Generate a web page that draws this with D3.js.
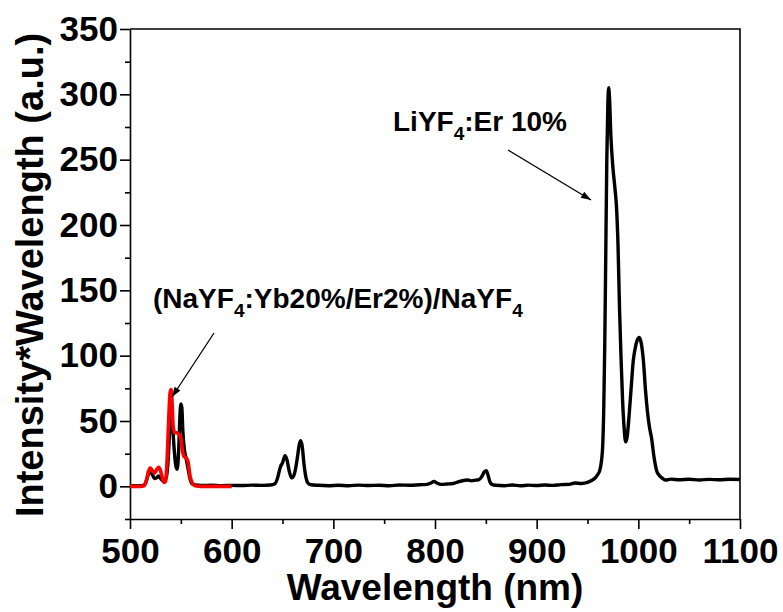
<!DOCTYPE html>
<html>
<head>
<meta charset="utf-8">
<script src="https://cdn.jsdelivr.net/npm/d3@7"></script>
<style>
  body { margin: 0; background: #fff; }
  svg text { font-family: "Liberation Sans", Arial, sans-serif; font-weight: bold; }
</style>
</head>
<body>
<svg id="chart" width="783" height="612"></svg>
<script>
// LiYF4:Er 10% spectrum (black)
const liyfWavelength = [500, 505, 510, 514, 516, 518, 520, 522, 524, 526, 528, 530, 532, 534, 536, 537.5, 539, 540.5, 542, 543.5, 545, 546.5, 548, 549, 550, 551, 552, 553.5, 555, 557, 559, 561, 564, 570, 580, 590, 600, 610, 620, 630, 638, 642.5, 645, 648, 650, 652.5, 654.5, 656.5, 659, 661, 663, 665, 666.5, 668, 669.5, 671, 673, 675, 678, 685, 695, 705, 715, 725, 735, 745, 755, 765, 775, 785, 792, 796, 799, 802, 806, 812, 818, 823, 828, 832, 836, 840, 843, 846, 848.5, 850.5, 852, 854, 856, 860, 868, 876, 884, 892, 900, 908, 916, 924, 932, 938, 944, 950, 954, 957, 960, 962, 963.5, 965, 966, 967, 968, 969, 970, 970.8, 971.6, 973, 975, 977, 978.5, 980, 981.5, 983, 984.5, 986, 987.5, 989, 991, 993, 995, 997, 999, 1001, 1003, 1005, 1007, 1009, 1011, 1013, 1015.5, 1018, 1021, 1024, 1027, 1032, 1040, 1050, 1060, 1070, 1080, 1090, 1100];
const liyfIntensity = [0.3, 0.5, 0.4, 1, 4, 9, 11, 9, 6, 6.5, 8, 6, 4.5, 4, 8, 20, 42, 55, 45, 28, 16, 13, 30, 52, 63, 60, 42, 28, 22, 14, 6, 2, 1, 0.6, 0.8, 0.5, 0.7, 0.6, 0.9, 0.7, 1, 2, 6, 15, 18, 23.5, 20, 12, 6.5, 8, 14, 24, 32, 35, 30, 18, 7, 2.5, 1.2, 0.8, 0.5, 0.8, 0.5, 0.9, 0.6, 0.8, 0.5, 1, 0.8, 1.2, 1.5, 2.5, 3.8, 2.5, 1.5, 1.8, 2.2, 3.5, 4.5, 4.8, 4.2, 4.8, 5, 7.5, 11, 12, 9, 3.5, 1.5, 0.8, 0.5, 1, 0.4, 0.9, 0.6, 1, 0.7, 1.3, 1.5, 2.5, 2.2, 3, 4.5, 6, 9, 12, 18, 32, 60, 110, 180, 250, 292, 305, 298, 268, 244, 228, 214, 185, 136, 98, 66, 45, 34, 38, 55, 76, 96, 106, 112, 114, 109, 96, 74, 57, 45, 37, 22, 12, 8, 6, 4.8, 5.5, 5, 5.4, 4.9, 5.3, 5, 5.4, 5.2];

// (NaYF4:Yb20%/Er2%)/NaYF4 spectrum (red)
const nayfWavelength = [500, 510, 514, 516, 518, 520, 522, 524, 526, 528, 530, 532, 533.5, 535, 536.5, 538, 539.5, 540.5, 541.5, 542.5, 544, 546, 548, 550, 551.5, 553, 555, 557, 559, 561, 564, 570, 580, 590, 600];
const nayfIntensity = [0, 0, 0.5, 4, 11, 14, 12, 10, 12.5, 14.5, 12, 6, 3, 4, 20, 50, 72, 74, 62, 45, 41, 41, 40, 37, 28, 23, 22, 19, 8, 3, 0.5, 0, 0, 0, 0];

const xTicks = [500, 600, 700, 800, 900, 1000, 1100];
const xMinorTicks = [550, 650, 750, 850, 950, 1050];
const yTicks = [0, 50, 100, 150, 200, 250, 300, 350];
const yMinorTicks = [-25, 25, 75, 125, 175, 225, 275, 325];

const plotLeft = 130, plotRight = 740, plotTop = 29, plotBottom = 519;

const svg = d3.select('#chart');

const x = d3.scaleLinear().domain([500, 1100]).range([plotLeft, plotRight]);
const y = d3.scaleLinear().domain([-25, 350]).range([plotBottom, plotTop]);

// frame (top and right)
svg.append('path')
    .attr('d', `M${plotLeft},${plotTop}H${plotRight}V${plotBottom}`)
    .attr('fill', 'none')
    .attr('stroke', '#000')
    .attr('stroke-width', 1.6);

const styleAxis = g => {
    g.select('.domain').attr('stroke-width', 1.6);
    g.selectAll('.tick line').attr('stroke-width', 1.6);
    g.selectAll('text').attr('font-size', 35).attr('fill', '#000');
};

// minor ticks
svg.append('g')
    .attr('transform', `translate(0,${plotBottom})`)
    .call(d3.axisBottom(x).tickValues(xMinorTicks).tickSize(5).tickFormat(''))
    .call(g => g.select('.domain').remove())
    .call(g => g.selectAll('.tick line').attr('stroke-width', 1.6));
svg.append('g')
    .attr('transform', `translate(${plotLeft},0)`)
    .call(d3.axisLeft(y).tickValues(yMinorTicks).tickSize(5).tickFormat(''))
    .call(g => g.select('.domain').remove())
    .call(g => g.selectAll('.tick line').attr('stroke-width', 1.6));

svg.append('g')
    .attr('transform', `translate(0,${plotBottom})`)
    .call(d3.axisBottom(x).tickValues(xTicks).tickSize(10).tickSizeOuter(0).tickPadding(9).tickFormat(d3.format('d')))
    .call(styleAxis);

svg.append('g')
    .attr('transform', `translate(${plotLeft},0)`)
    .call(d3.axisLeft(y).tickValues(yTicks).tickSize(10).tickSizeOuter(0).tickPadding(2).tickFormat(d3.format('d')))
    .call(styleAxis);

// curves
const line = d3.line()
    .x(d => x(d[0]))
    .y(d => y(d[1]))
    .curve(d3.curveMonotoneX);

svg.append('path')
    .datum(d3.zip(liyfWavelength, liyfIntensity))
    .attr('fill', 'none')
    .attr('stroke', '#000')
    .attr('stroke-width', 3.4)
    .attr('stroke-linejoin', 'round')
    .attr('d', line);

svg.append('path')
    .datum(d3.zip(nayfWavelength, nayfIntensity))
    .attr('fill', 'none')
    .attr('stroke', '#f00')
    .attr('stroke-width', 3.6)
    .attr('stroke-linejoin', 'round')
    .attr('d', line);

// axis titles
svg.append('text')
    .attr('x', (plotLeft + plotRight) / 2)
    .attr('y', 600)
    .attr('text-anchor', 'middle')
    .attr('font-size', 37)
    .text('Wavelength (nm)');

svg.append('text')
    .attr('transform', 'translate(43,275) rotate(-90)')
    .attr('text-anchor', 'middle')
    .attr('font-size', 38)
    .text('Intensity*Wavelength (a.u.)');

// annotations
svg.append('defs').append('marker')
    .attr('id', 'arrow')
    .attr('viewBox', '0 0 10 10')
    .attr('refX', 10)
    .attr('refY', 5)
    .attr('markerUnits', 'userSpaceOnUse')
    .attr('markerWidth', 14)
    .attr('markerHeight', 10)
    .attr('orient', 'auto')
    .append('path')
    .attr('d', 'M0,1.5L10,5L0,8.5Z')
    .attr('fill', '#000');

const label = (xPos, yPos, parts) => {
    const t = svg.append('text').attr('x', xPos).attr('y', yPos).attr('font-size', 28);
    parts.forEach(p => {
        if (p.sub) {
            t.append('tspan').attr('dy', 9).attr('font-size', 19).text(p.sub);
        } else {
            t.append('tspan').attr('dy', t.selectAll('tspan').size() ? -9 : 0).text(p.text);
        }
    });
};

label(393, 140, [{text: 'LiYF'}, {sub: '4'}, {text: ':Er 10%'}]);
label(153, 317, [{text: '(NaYF'}, {sub: '4'}, {text: ':Yb20%/Er2%)/NaYF'}, {sub: '4'}]);

svg.append('line')
    .attr('x1', 508).attr('y1', 150).attr('x2', 591).attr('y2', 200)
    .attr('stroke', '#000').attr('stroke-width', 1.3)
    .attr('marker-end', 'url(#arrow)');
svg.append('line')
    .attr('x1', 214).attr('y1', 333).attr('x2', 172).attr('y2', 397)
    .attr('stroke', '#000').attr('stroke-width', 1.3)
    .attr('marker-end', 'url(#arrow)');
</script>
</body>
</html>
